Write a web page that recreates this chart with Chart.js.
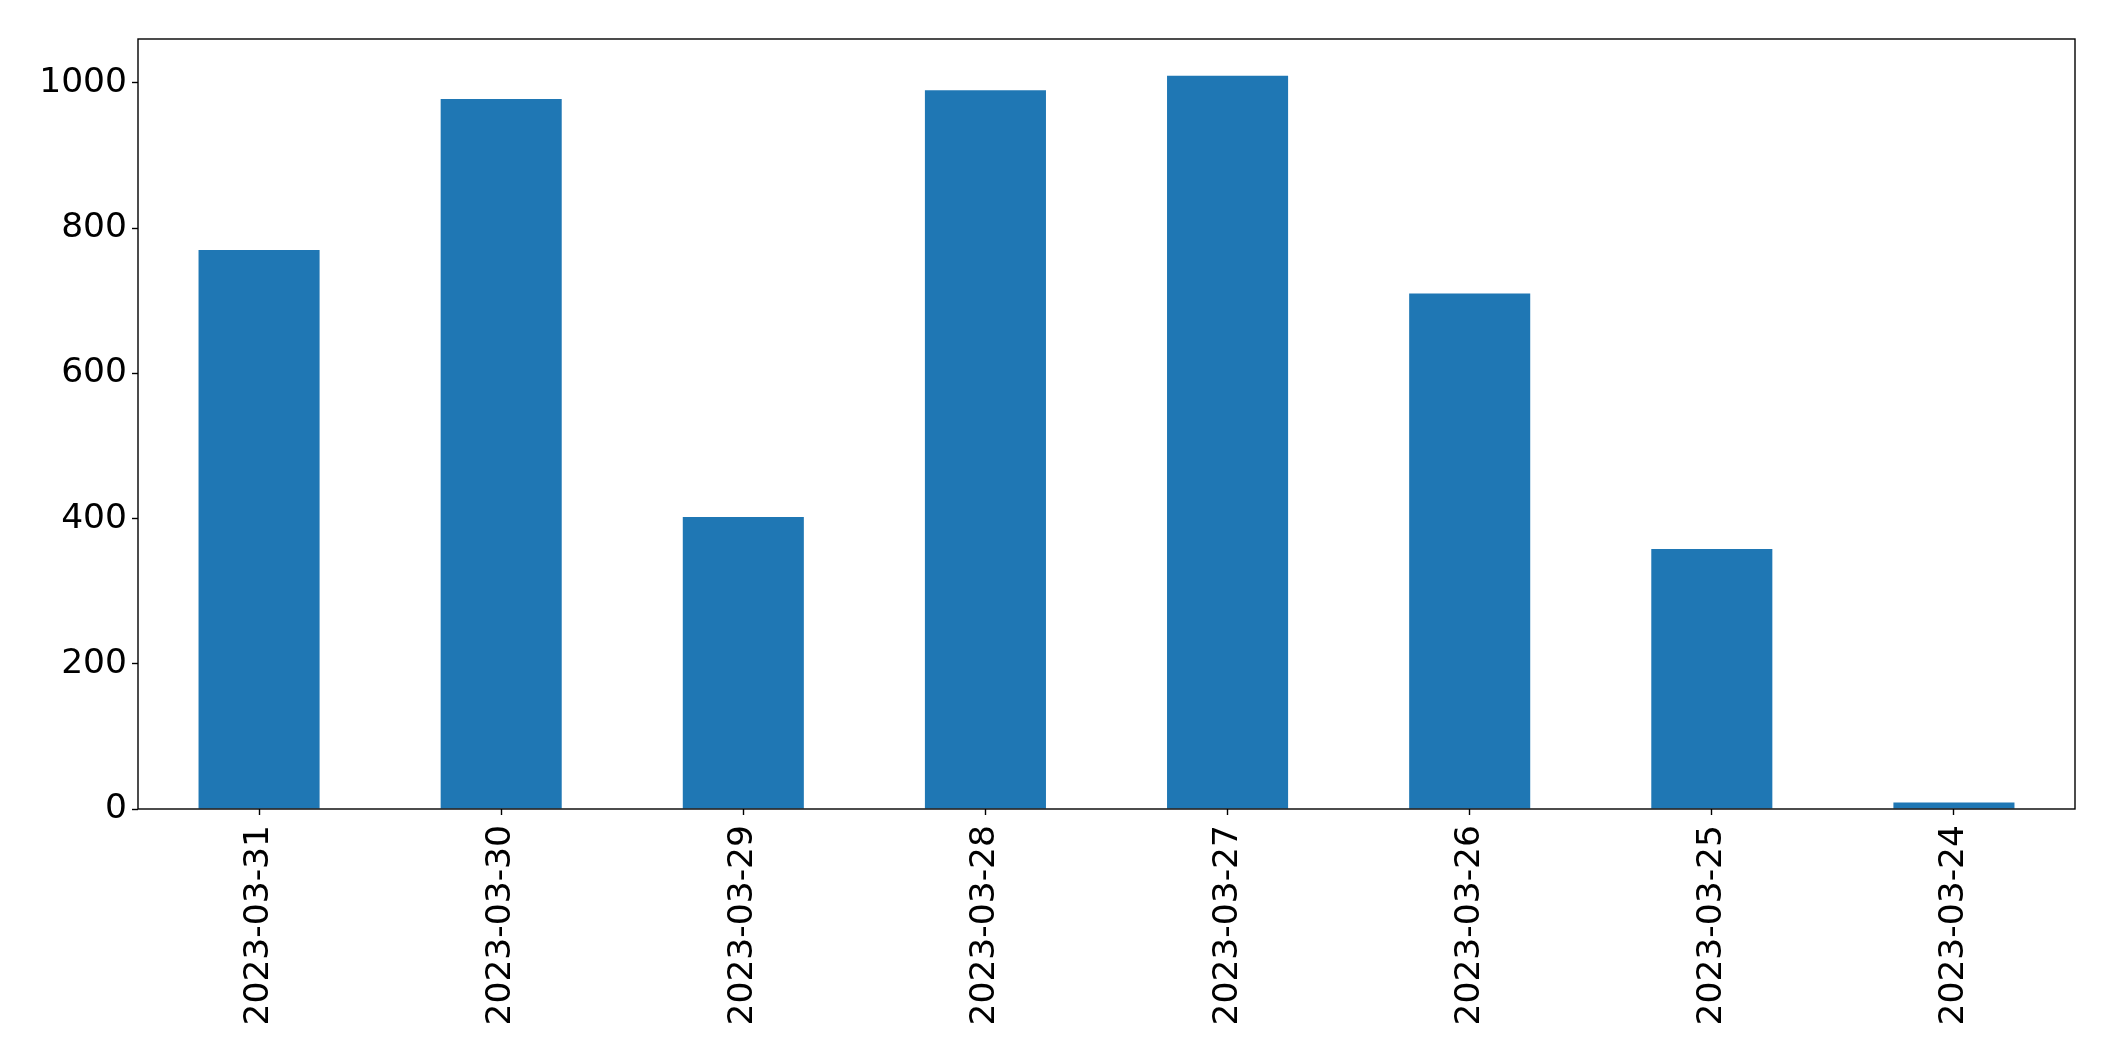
<!DOCTYPE html>
<html>
<head>
<meta charset="utf-8">
<style>
  html, body { margin: 0; padding: 0; background: #fff; }
  #wrap { width: 2115px; height: 1061px; }
</style>
</head>
<body>
<div id="wrap"><canvas id="barChart" width="2115" height="1061"></canvas></div>
<script src="https://cdn.jsdelivr.net/npm/chart.js"></script>
<script>
    // data
    const dates = ['2023-03-31', '2023-03-30', '2023-03-29', '2023-03-28', '2023-03-27', '2023-03-26', '2023-03-25', '2023-03-24'];
    const counts = [770, 978, 402, 990, 1010, 710, 358, 9];
    const yTicks = [0, 200, 400, 600, 800, 1000];

    const tickFont = { family: 'DejaVu Sans', size: 34.5 };

    // full box around the plot area, like matplotlib's spines
    const frame = {
        id: 'frame',
        afterDraw(chart) {
            const a = chart.chartArea;
            const c = chart.ctx;
            c.save();
            c.strokeStyle = '#000';
            c.lineWidth = 1.4;
            c.strokeRect(a.left, a.top, a.right - a.left, a.bottom - a.top);
            c.restore();
        }
    };

    new Chart(document.getElementById('barChart'), {
        type: 'bar',
        data: {
            labels: dates,
            datasets: [{
                data: counts,
                backgroundColor: '#1f77b4',
                borderWidth: 0,
                categoryPercentage: 1.0,
                barPercentage: 0.5
            }]
        },
        options: {
            responsive: false,
            animation: false,
            layout: { padding: { top: 39, right: 40, left: 0, bottom: 0 } },
            plugins: {
                legend: { display: false },
                tooltip: { enabled: false }
            },
            scales: {
                x: {
                    grid: { display: true, offset: false, drawOnChartArea: false, color: '#000', tickLength: 6, tickWidth: 1.4 },
                    border: { display: false },
                    ticks: {
                        color: '#000',
                        font: tickFont,
                        minRotation: 90,
                        maxRotation: 90,
                        padding: 10
                    },
                    afterFit(scale) { scale.height = 252; }
                },
                y: {
                    min: 0,
                    max: 1060.5,
                    grid: { display: true, drawOnChartArea: false, color: '#000', tickLength: 6, tickWidth: 1.4 },
                    border: { display: false },
                    ticks: {
                        color: '#000',
                        font: tickFont,
                        padding: 5,
                        callback: v => String(v)
                    },
                    afterBuildTicks(scale) {
                        scale.ticks = yTicks.map(v => ({ value: v }));
                    },
                    afterFit(scale) { scale.width = 138; }
                }
            }
        },
        plugins: [frame]
    });
</script>
</body>
</html>
